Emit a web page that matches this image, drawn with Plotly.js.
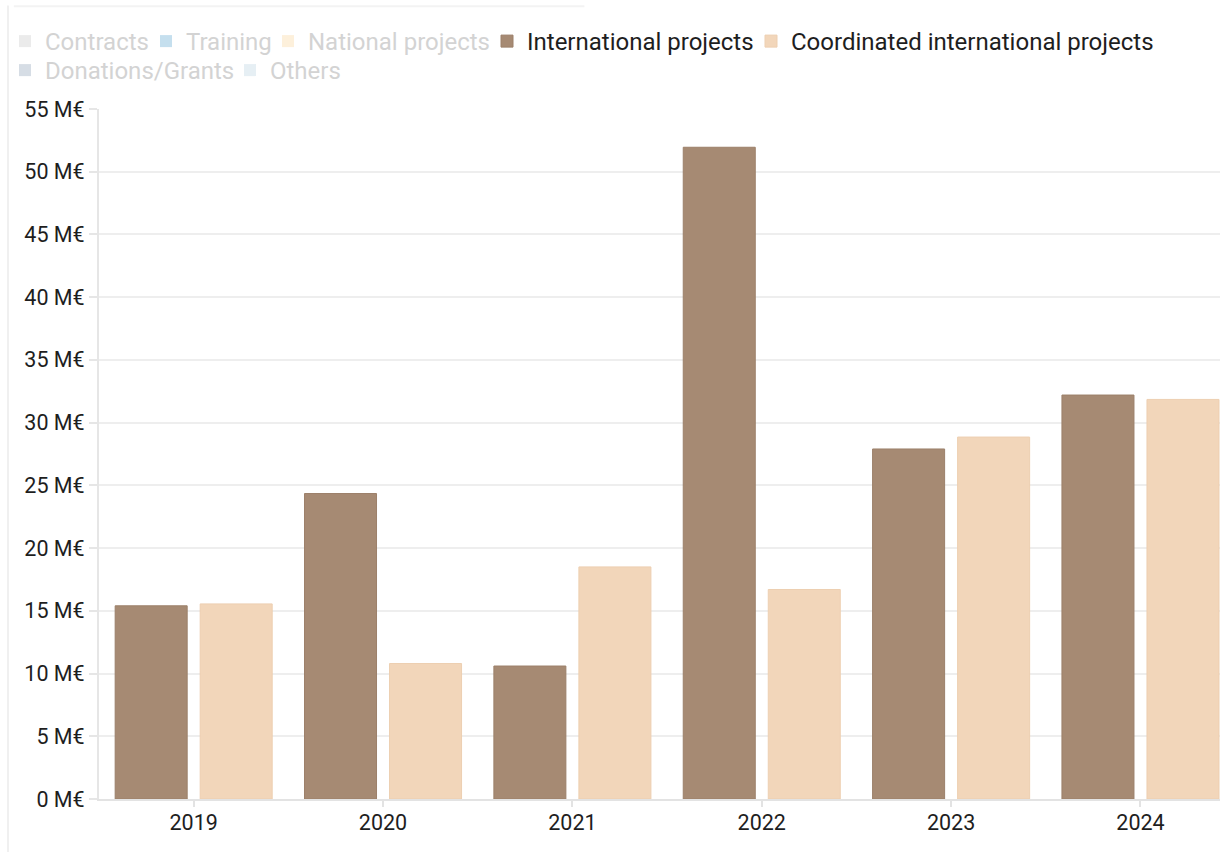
<!DOCTYPE html>
<html>
<head>
<meta charset="utf-8">
<script src="https://cdn.plot.ly/plotly-3.0.1.min.js"></script>
<style>
html,body{margin:0;padding:0;background:#fff;overflow:hidden;}
#chart{width:1220px;height:852px;}
</style>
</head>
<body>
<div id="chart"></div>
<script>
// ---- data ----
const years = ["2019", "2020", "2021", "2022", "2023", "2024"];
const internationalProjects = [15.4, 24.35, 10.6, 51.95, 27.9, 32.2];
const coordinatedInternationalProjects = [15.55, 10.8, 18.5, 16.7, 28.85, 31.85];
const seriesNames = ["Contracts", "Training", "National projects", "International projects",
                     "Coordinated international projects", "Donations/Grants", "Others"];
const hiddenSeries = ["Contracts", "Training", "National projects", "Donations/Grants", "Others"];
const yTickValues = [0, 5, 10, 15, 20, 25, 30, 35, 40, 45, 50, 55];
const yTickLabels = yTickValues.map(v => v + " M€");

const seriesColors = {
  "Contracts": "#d9d9d9",
  "Training": "#8cc0df",
  "National projects": "#fde2b8",
  "International projects": "#a68a73",
  "Coordinated international projects": "#f2d6ba",
  "Donations/Grants": "#aebdcc",
  "Others": "#cfe0ea"
};
const seriesLines = {
  "International projects": "#9c806a",
  "Coordinated international projects": "#edcfb1"
};
const seriesValues = {
  "International projects": internationalProjects,
  "Coordinated international projects": coordinatedInternationalProjects
};

// legend entry placement (container px): text-left x, row top y
const legendPlacement = {
  "Contracts": [5, 19],
  "Training": [146, 19],
  "National projects": [268, 19],
  "International projects": [487, 19],
  "Coordinated international projects": [751, 19],
  "Donations/Grants": [5, 48],
  "Others": [230, 48]
};

const FONT = "Roboto, 'Open Sans', sans-serif";
const W = 1220, H = 852;

const traces = [];
const layout = {
  width: W, height: H,
  margin: {l: 99, r: 0, t: 109, b: 53},
  paper_bgcolor: "#ffffff", plot_bgcolor: "#ffffff",
  font: {family: FONT, color: "#1e1e1e", size: 21},
  barmode: "group", bargap: 0.102, bargroupgap: 0.153,
  showlegend: true,
  xaxis: {
    type: "category", range: [-0.5, 5.42], fixedrange: true,
    showline: true, linecolor: "#e3e3e3", linewidth: 2,
    ticks: "outside", ticklen: 6, tickcolor: "#e3e3e3", tickwidth: 2,
    ticklabelstandoff: -3,
    tickfont: {family: FONT, size: 21.5, color: "#1e1e1e"},
    showgrid: false, zeroline: false
  },
  yaxis: {
    range: [0, 55], fixedrange: true,
    tickvals: yTickValues, ticktext: yTickLabels,
    showline: true, linecolor: "#e6e6e6", linewidth: 2,
    ticks: "outside", ticklen: 8, tickcolor: "#e6e6e6", tickwidth: 2,
    showgrid: true, gridcolor: "#eeeeee", gridwidth: 2,
    zeroline: false,
    tickfont: {family: FONT, size: 21.5, color: "#1e1e1e"}
  },
  shapes: [
    {type: "line", xref: "paper", yref: "paper", x0: -0.0812, x1: -0.0812, y0: -0.08, y1: 1.15,
     line: {color: "#f0f0f0", width: 2}},
    {type: "line", xref: "paper", yref: "paper", x0: -0.076, x1: 0.433, y0: 1.149, y1: 1.149,
     line: {color: "#f3f3f3", width: 2}}
  ]
};

seriesNames.forEach((name, i) => {
  const legendId = i === 0 ? "legend" : "legend" + (i + 1);
  const hidden = hiddenSeries.includes(name);
  const t = {
    type: "bar", name: name, x: years,
    y: hidden ? years.map(() => 0) : seriesValues[name],
    marker: {color: seriesColors[name]},
    legend: legendId
  };
  if (hidden) t.visible = "legendonly";
  else t.marker.line = {color: seriesLines[name], width: 1};
  traces.push(t);
  const p = legendPlacement[name];
  layout[legendId] = {
    orientation: "h", xref: "container", yref: "container",
    xanchor: "left", yanchor: "top", bgcolor: "rgba(0,0,0,0)",
    x: (p[0]) / W, y: 1 - p[1] / H,
    font: {family: FONT, size: 24, color: hidden ? "#a8a8a8" : "#1e1e1e"}
  };
});

Plotly.newPlot("chart", traces, layout, {displayModeBar: false, staticPlot: true});
</script>
</body>
</html>
